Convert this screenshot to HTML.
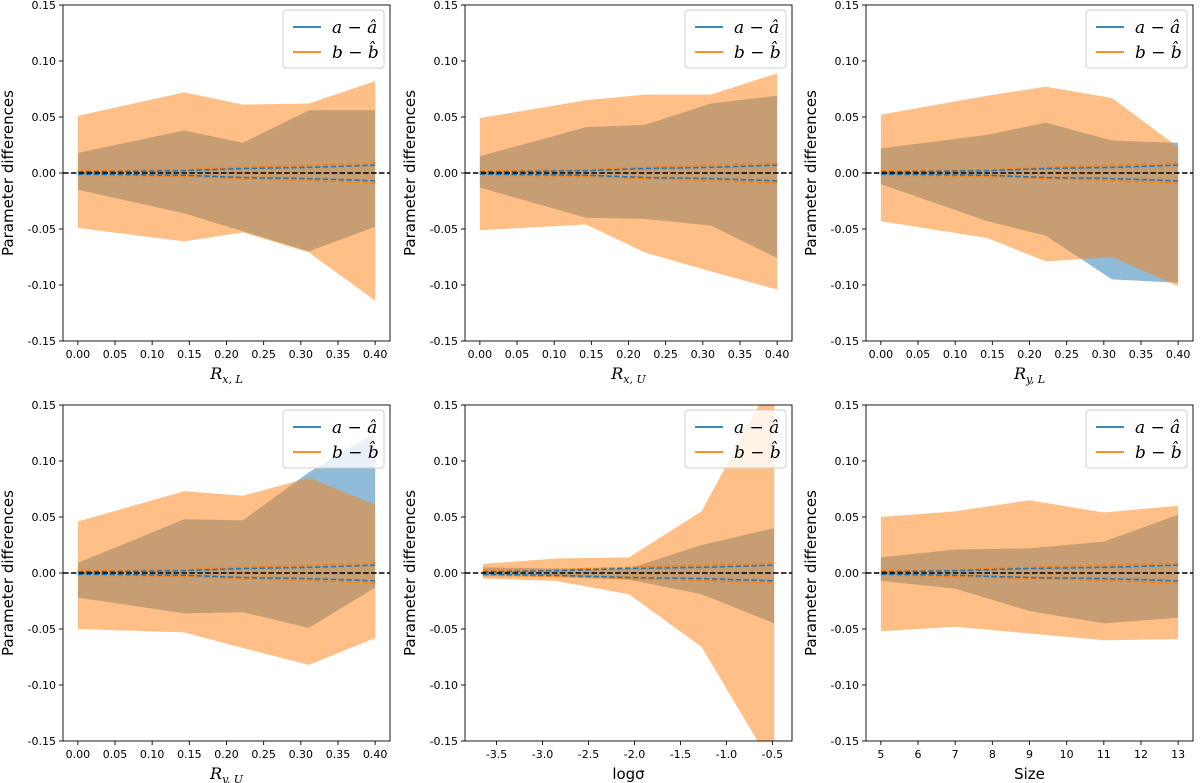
<!DOCTYPE html>
<html><head><meta charset="utf-8">
<style>
html,body{margin:0;padding:0;background:#fff;}
svg{display:block;font-family:"DejaVu Sans","Liberation Sans",sans-serif;}
</style></head>
<body>
<svg id="fig" width="1200" height="783" viewBox="0 0 1200 783" xmlns="http://www.w3.org/2000/svg"></svg>
<script>
// ---- data ----
const xRL = [0, 0.143, 0.222, 0.311, 0.4];
const xSig = [-3.65, -2.86, -2.06, -1.27, -0.48];
const xSize = [5, 7, 9, 11, 13];

const p1OrangeUp = [0.051, 0.072, 0.061, 0.062, 0.082];
const p1OrangeLo = [-0.049, -0.061, -0.053, -0.071, -0.114];
const p1BlueUp = [0.018, 0.038, 0.027, 0.056, 0.056];
const p1BlueLo = [-0.015, -0.036, -0.052, -0.070, -0.048];

const p2OrangeUp = [0.049, 0.065, 0.070, 0.070, 0.089];
const p2OrangeLo = [-0.051, -0.046, -0.071, -0.088, -0.104];
const p2BlueUp = [0.015, 0.041, 0.043, 0.062, 0.069];
const p2BlueLo = [-0.013, -0.040, -0.041, -0.047, -0.076];

const p3OrangeUp = [0.052, 0.069, 0.077, 0.067, 0.023];
const p3OrangeLo = [-0.043, -0.058, -0.079, -0.075, -0.101];
const p3BlueUp = [0.022, 0.034, 0.045, 0.029, 0.027];
const p3BlueLo = [-0.010, -0.043, -0.056, -0.095, -0.098];

const p4OrangeUp = [0.046, 0.073, 0.069, 0.085, 0.061];
const p4OrangeLo = [-0.050, -0.053, -0.067, -0.082, -0.058];
const p4BlueUp = [0.009, 0.048, 0.047, 0.090, 0.125];
const p4BlueLo = [-0.022, -0.036, -0.035, -0.049, -0.013];

const p5OrangeUp = [0.008, 0.013, 0.014, 0.055, 0.175];
const p5OrangeLo = [-0.005, -0.007, -0.019, -0.066, -0.175];
const p5BlueUp = [0.005, 0.004, 0.004, 0.025, 0.040];
const p5BlueLo = [-0.003, -0.003, -0.006, -0.019, -0.045];

const p6OrangeUp = [0.050, 0.055, 0.065, 0.054, 0.060];
const p6OrangeLo = [-0.052, -0.048, -0.054, -0.060, -0.059];
const p6BlueUp = [0.014, 0.021, 0.022, 0.028, 0.052];
const p6BlueLo = [-0.007, -0.014, -0.034, -0.045, -0.040];

const blueErr = [0.001, 0.002, 0.004, 0.005, 0.007];
const orangeErr = [0.002, 0.003, 0.005, 0.007, 0.009];

const yTicks = [-0.15, -0.10, -0.05, 0.00, 0.05, 0.10, 0.15];
const yTickLabels = ["-0.15", "-0.10", "-0.05", "0.00", "0.05", "0.10", "0.15"];
const rTicks = [0, 0.05, 0.1, 0.15, 0.2, 0.25, 0.3, 0.35, 0.4];
const rTickLabels = ["0.00","0.05","0.10","0.15","0.20","0.25","0.30","0.35","0.40"];
const sigTicks = [-3.5, -3.0, -2.5, -2.0, -1.5, -1.0, -0.5];
const sigTickLabels = ["-3.5","-3.0","-2.5","-2.0","-1.5","-1.0","-0.5"];
const sizeTicks = [5,6,7,8,9,10,11,12,13];
const sizeTickLabels = ["5","6","7","8","9","10","11","12","13"];

const NS = "http://www.w3.org/2000/svg";
const svg = document.getElementById('fig');
function mk(tag, attrs, parent){
  const e = document.createElementNS(NS, tag);
  for (const k in attrs) e.setAttribute(k, attrs[k]);
  (parent||svg).appendChild(e);
  return e;
}

const panels = [
  {id:'p1', left:63, top:5, x:xRL, xmin:-0.02, xmax:0.42, ticks:rTicks, tl:rTickLabels, xl:['R','x, L'], ou:p1OrangeUp, ol:p1OrangeLo, bu:p1BlueUp, bl:p1BlueLo},
  {id:'p2', left:465, top:5, x:xRL, xmin:-0.02, xmax:0.42, ticks:rTicks, tl:rTickLabels, xl:['R','x, U'], ou:p2OrangeUp, ol:p2OrangeLo, bu:p2BlueUp, bl:p2BlueLo},
  {id:'p3', left:866, top:5, x:xRL, xmin:-0.02, xmax:0.42, ticks:rTicks, tl:rTickLabels, xl:['R','y, L'], ou:p3OrangeUp, ol:p3OrangeLo, bu:p3BlueUp, bl:p3BlueLo},
  {id:'p4', left:63, top:405, x:xRL, xmin:-0.02, xmax:0.42, ticks:rTicks, tl:rTickLabels, xl:['R','y, U'], ou:p4OrangeUp, ol:p4OrangeLo, bu:p4BlueUp, bl:p4BlueLo},
  {id:'p5', left:465, top:405, x:xSig, xmin:-3.8435, xmax:-0.2865, ticks:sigTicks, tl:sigTickLabels, xl:null, txt:'logσ', ou:p5OrangeUp, ol:p5OrangeLo, bu:p5BlueUp, bl:p5BlueLo},
  {id:'p6', left:866, top:405, x:xSize, xmin:4.6, xmax:13.4, ticks:sizeTicks, tl:sizeTickLabels, xl:null, txt:'Size', ou:p6OrangeUp, ol:p6OrangeLo, bu:p6BlueUp, bl:p6BlueLo},
];
const W = 327, H = 336;

panels.forEach((p, pi) => {
  const g = mk('g', {});
  
  
  const sx = v => p.left + (v - p.xmin) / (p.xmax - p.xmin) * W;
  const sy = v => p.top + (0.15 - v) / 0.30 * H;
  const clipId = 'clip' + pi;
  const cp = mk('clipPath', {id: clipId}, g);
  mk('rect', {x:p.left, y:p.top, width:W, height:H}, cp);
  const pg = mk('g', {'clip-path':'url(#' + clipId + ')'}, g);

  function band(up, lo, color, name){
    let d = '';
    p.x.forEach((xv,i)=>{ d += (i? 'L':'M') + sx(xv).toFixed(2) + ',' + sy(up[i]).toFixed(2); });
    for (let i=p.x.length-1;i>=0;i--) d += 'L' + sx(p.x[i]).toFixed(2) + ',' + sy(lo[i]).toFixed(2);
    const e = mk('path', {d: d + 'Z', fill: color, 'fill-opacity': 0.5, stroke:'none'}, pg);
    
    
  }
  band(p.bu, p.bl, '#1f77b4', 'band-a');
  band(p.ou, p.ol, '#ff7f0e', 'band-b');

  function dline(sign, err, color, name){
    let d='';
    p.x.forEach((xv,i)=>{ d += (i?'L':'M') + sx(xv).toFixed(2) + ',' + sy(sign*err[i]).toFixed(2); });
    const e = mk('path', {d:d, fill:'none', stroke:color, 'stroke-width':1.5, 'stroke-dasharray':'5.5,2.4'}, pg);
    
    
  }
  dline(1, orangeErr, '#ff7f0e', 'err-b-upper');
  dline(-1, orangeErr, '#ff7f0e', 'err-b-lower');
  dline(1, blueErr, '#1f77b4', 'err-a-upper');
  dline(-1, blueErr, '#1f77b4', 'err-a-lower');
  const z = mk('line', {x1:p.left, x2:p.left+W, y1:sy(0), y2:sy(0), stroke:'#000', 'stroke-width':1.5, 'stroke-dasharray':'5.5,2.4'}, pg);
  
  

  // frame
  const fr = mk('rect', {x:p.left, y:p.top, width:W, height:H, fill:'none', stroke:'#000', 'stroke-width':0.9}, g);
  
  

  // y ticks
  yTicks.forEach((t,i)=>{
    const y = sy(t);
    mk('line', {x1:p.left-4, x2:p.left, y1:y, y2:y, stroke:'#000', 'stroke-width':0.9}, g);
    const tx = mk('text', {x:p.left-7, y:y+4, 'text-anchor':'end', 'font-size':11, fill:'#000'}, g);
    tx.textContent = yTickLabels[i];
    
    
  });
  // x ticks
  p.ticks.forEach((t,i)=>{
    const x = sx(t);
    mk('line', {x1:x, x2:x, y1:p.top+H, y2:p.top+H+4, stroke:'#000', 'stroke-width':0.9}, g);
    const tx = mk('text', {x:x, y:p.top+H+17, 'text-anchor':'middle', 'font-size':11, fill:'#000'}, g);
    tx.textContent = p.tl[i];
    
    
  });
  // y label
  const yl = mk('text', {x:0, y:0, transform:'translate(' + (p.left-50) + ',' + (p.top+H/2) + ') rotate(-90)', 'text-anchor':'middle', 'font-size':15, fill:'#000'}, g);
  yl.textContent = 'Parameter differences';
  
  
  // x label
  const xl = mk('text', {x:p.left+W/2, y:p.top+H+38, 'text-anchor':'middle', 'font-size':15, fill:'#000'}, g);
  if (p.xl){
    xl.setAttribute('font-family', '"DejaVu Serif","Liberation Serif",serif');
    const a = mk('tspan', {'font-style':'italic', 'font-size':16}, xl); a.textContent = p.xl[0];
    const b = mk('tspan', {'font-style':'italic', 'font-size':11, dy:4}, xl); b.textContent = p.xl[1];
  } else {
    xl.textContent = p.txt;
  }
  
  

  // legend
  const lg = mk('g', {}, g);
  
  
  const lx = p.left + W - 107, ly = p.top + 5;
  mk('rect', {x:lx, y:ly, width:101, height:58, rx:3, fill:'#fff', 'fill-opacity':0.8, stroke:'#ccc', 'stroke-width':0.9}, lg);
  [['#1f77b4','a − â','legend-entry-a'],['#ff7f0e','b − b̂','legend-entry-b']].forEach((e,i)=>{
    const y = ly + 17 + i*25;
    const ln = mk('line', {x1:lx+10, x2:lx+38, y1:y, y2:y, stroke:e[0], 'stroke-width':1.8}, lg);
    
    
    const t = mk('text', {x:lx+49, y:y+6, 'font-size':17, 'font-style':'italic', 'font-family':'"DejaVu Serif","Liberation Serif",serif', fill:'#000'}, lg);
    t.textContent = e[1];
    
    
  });
});
</script>
</body></html>
